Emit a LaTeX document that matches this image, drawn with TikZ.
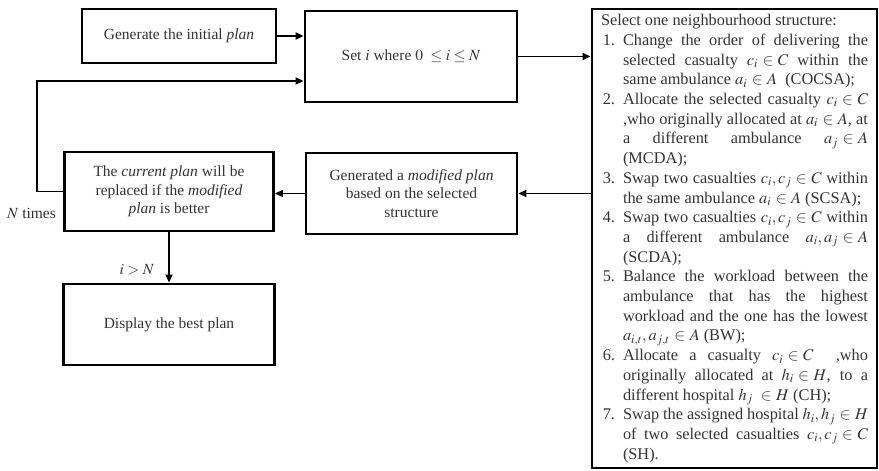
\documentclass[tikz,border=0pt]{standalone}
\usepackage{mathptmx}
\usepackage{fontspec}
\setmainfont{Liberation Serif}
\usetikzlibrary{arrows.meta}

\tikzset{
  box/.style={draw=black, line width=2.9pt, align=center, inner sep=4pt,
    text=black!80, font=\fontsize{15.5}{18.5}\selectfont},
  flow/.style={line width=1.9pt, -{Triangle[length=8pt,width=7pt]}},
  lbl/.style={font=\fontsize{15.5}{18.5}\selectfont, text=black!80, inner sep=0pt}
}

\newenvironment{nbhlist}{%
  \begin{list}{\arabic{enumi}.}{\usecounter{enumi}%
    \leftmargin=22pt \labelwidth=14pt \labelsep=8pt
    \itemsep=0pt \parsep=0pt \topsep=0pt \partopsep=0pt \rightmargin=0pt}}%
  {\end{list}}

\begin{document}
\begin{tikzpicture}[x=1pt, y=-1pt]
\useasboundingbox (0,0) rectangle (879,471);

% main flow boxes
\node[box, minimum width=194pt, minimum height=54pt] (init) at (179,36)
  {Generate the initial \textit{plan}};
\node[box, minimum width=212pt, minimum height=91pt] (seti) at (411,56.5)
  {Set \textit{i} where $0\ \leq i \leq N$};
\node[box, minimum width=209pt, minimum height=79pt] (curr) at (169,191.5)
  {The \textit{current plan} will be\\replaced if the \textit{modified}\\\textit{plan} is better};
\node[box, minimum width=211pt, minimum height=81pt] (modi) at (411.5,193.5)
  {Generated a \textit{modified plan}\\based on the selected\\structure};
\node[box, minimum width=211pt, minimum height=81pt] (best) at (169,324.5)
  {Display the best plan};

% neighbourhood structures
\node[box, minimum width=285pt, minimum height=459pt, inner xsep=9pt,
      text width=267pt, align=justify,
      font=\fontsize{16.3}{19.7}\selectfont] (sel) at (734.5,238.5)
{\setlength{\baselineskip}{19.7pt}\sloppy
\hyphenpenalty=10000 \exhyphenpenalty=10000
\spaceskip=0.25em plus 1em minus 0.09em
\thickmuskip=5mu \medmuskip=4mu
Select one neighbourhood structure:
\begin{nbhlist}
\item Change the order of delivering the\linebreak
  selected casualty $c_i \in C$\ within the\linebreak
  same ambulance $a_i \in A$ \ (COCSA);
\item Allocate the selected casualty $c_i \in C$\linebreak
  ,who originally allocated at $a_i \in A$, at\linebreak
  a different ambulance $a_j \in A$\linebreak
  (MCDA);
\item Swap two casualties $c_i, c_j \in C$ within\linebreak
  the same ambulance $a_i \in A$ (SCSA);
\item Swap two casualties $c_i, c_j \in C$ within\linebreak
  a different ambulance $a_i, a_j \in A$\linebreak
  (SCDA);
\item Balance the workload between the\linebreak
  ambulance that has the highest\linebreak
  workload and the one has the lowest\linebreak
  $a_{i,t}, a_{j,t} \in A$ (BW);
\item Allocate a casualty $c_i \in C$ \ ,who\linebreak
  originally allocated at $h_i \in H$, to a\linebreak
  different hospital $h_j$ \ $\in H$ (CH);
\item Swap the assigned hospital $h_i, h_j \in H$\linebreak
  of two selected casualties $c_i, c_j \in C$\linebreak
  (SH).
\end{nbhlist}};

% connectors
\draw[flow] (init.east) -- (init.east -| seti.west);
\draw[flow] (seti.east) -- (seti.east -| sel.west);
\draw[flow] (sel.west |- modi.east) -- (modi.east);
\draw[flow] (modi.west) -- (modi.west -| curr.east);
\draw[flow] (curr.south) -- (best.north);

% loop back for the next iteration
\coordinate (loop) at (37,81);
\draw[flow] (curr.west) -| (loop) -- (loop -| seti.west);

% labels
\node[lbl] (ntimes) at (31.5,213) {$N$ times};
\node[lbl] (cond) at (137,270) {$i > N$};
\end{tikzpicture}
\end{document}
